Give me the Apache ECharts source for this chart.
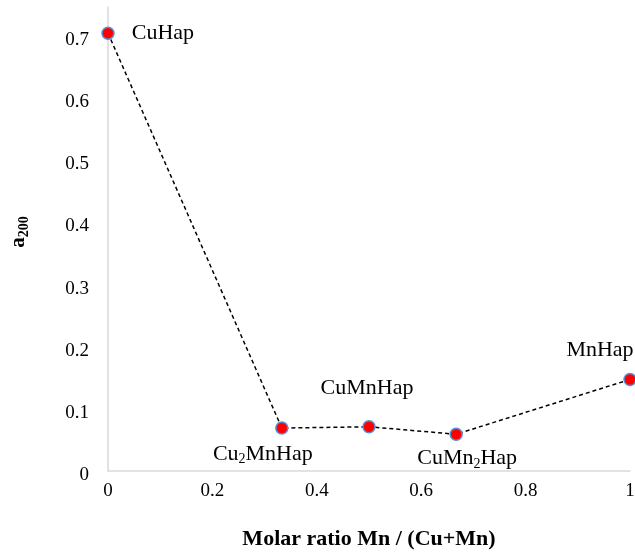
<!DOCTYPE html>
<html>
<head>
<meta charset="utf-8">
<script src="https://cdn.jsdelivr.net/npm/echarts@6/dist/echarts.min.js"></script>
<style>
  html, body { margin: 0; padding: 0; background: #fff; }
  #chart { width: 635px; height: 554px; }
</style>
</head>
<body>
<div id="chart"></div>
<script>
// Mn molar fraction of each hydroxyapatite sample and its a200 value
const molarRatio = [0, 0.333, 0.5, 0.667, 1];
const a200 = [0.703, 0.069, 0.071, 0.059, 0.147];
const sampleNames = ['CuHap', 'Cu{s|2}MnHap', 'CuMnHap', 'CuMn{s|2}Hap', 'MnHap'];

// where each sample name sits relative to its point
const labelPlacement = [
  { position: 'right', offset: [12, 0] },
  { position: 'bottom', offset: [-19, 1] },
  { position: 'top', offset: [-2, -16] },
  { position: 'bottom', offset: [11, -1] },
  { position: 'top', offset: [-30, -6] }
];

const serif = '"Liberation Serif", "Times New Roman", serif';
const labelRich = {
  s: { fontFamily: serif, fontSize: 14, color: '#000', padding: [12, 0, 0, 0] }
};

const points = molarRatio.map((x, i) => ({
  value: [x, a200[i]],
  label: Object.assign({
    show: true,
    formatter: sampleNames[i],
    fontFamily: serif,
    fontSize: 22,
    color: '#000',
    rich: labelRich
  }, labelPlacement[i])
}));

const chart = echarts.init(document.getElementById('chart'), null, { renderer: 'canvas' });
chart.setOption({
  animation: false,
  backgroundColor: '#fff',
  grid: { left: 108, right: 5, top: 7, bottom: 83, containLabel: false, outerBoundsMode: 'none' },
  xAxis: {
    type: 'value',
    min: 0, max: 1, interval: 0.2,
    name: 'Molar ratio Mn / (Cu+Mn)',
    nameLocation: 'middle',
    nameGap: 57,
    nameTextStyle: { fontFamily: serif, fontSize: 22, fontWeight: 'bold', color: '#000' },
    axisLine: { show: true, lineStyle: { color: '#d9d9d9', width: 1.5 } },
    axisTick: { show: false },
    splitLine: { show: false },
    axisLabel: { fontFamily: serif, fontSize: 19, color: '#000', margin: 11 }
  },
  yAxis: {
    type: 'value',
    min: 0, max: 0.745, interval: 0.1,
    name: '{b|a}{s|200}',
    nameLocation: 'middle',
    nameRotate: 90,
    nameGap: 77,
    nameTextStyle: {
      padding: [0, 0, 0, 14],
      rich: {
        b: { fontFamily: serif, fontSize: 21, fontWeight: 'bold', color: '#000' },
        s: { fontFamily: serif, fontSize: 14, fontWeight: 'bold', color: '#000', padding: [10, 0, 0, 0] }
      }
    },
    axisLine: { show: true, lineStyle: { color: '#d9d9d9', width: 1.5 } },
    axisTick: { show: false },
    splitLine: { show: false },
    axisLabel: {
      margin: 19,
      showMaxLabel: false,
      formatter: '{v|{value}}',
      rich: {
        v: { fontFamily: serif, fontSize: 19, color: '#000', padding: [9, 0, 0, 0] }
      }
    }
  },
  series: [{
    type: 'line',
    data: points,
    symbol: 'circle',
    symbolSize: 12,
    itemStyle: { color: '#ff0000', borderColor: '#5b8fd0', borderWidth: 1.5 },
    lineStyle: { color: '#000', width: 1.5, type: [4, 3] },
    z: 3
  }]
});
</script>
</body>
</html>
